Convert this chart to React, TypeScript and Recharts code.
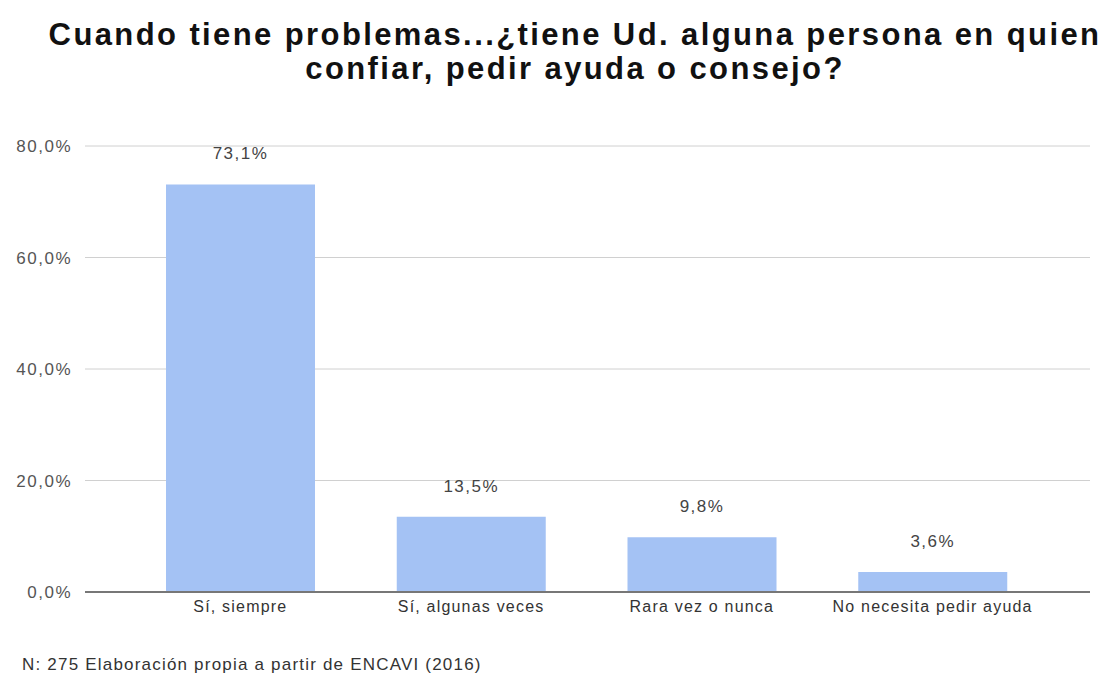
import React from 'react';
import { BarChart, Bar, XAxis, YAxis, CartesianGrid, LabelList } from 'recharts';

const categories = ['Sí, siempre', 'Sí, algunas veces', 'Rara vez o nunca', 'No necesita pedir ayuda'];
const values = [73.1, 13.5, 9.8, 3.6];
const yTicks = [0, 20, 40, 60, 80];

const data = categories.map((name, i) => ({ name, value: values[i] }));

const pct = (v: number) => `${v.toFixed(1).replace('.', ',')}%`;

const FONT = '"Liberation Sans", Arial, sans-serif';

const App: React.FC = () => {
  return (
    <div style={{ position: 'absolute', left: 0, top: 0, width: 1116, height: 680, background: '#fff', fontFamily: FONT }}>
      <div
        style={{
          position: 'absolute',
          left: 0,
          top: 18,
          width: 1150,
          textAlign: 'center',
          fontSize: 31,
          letterSpacing: 2.4,
          fontWeight: 'bold',
          lineHeight: '34px',
          color: '#111',
          whiteSpace: 'nowrap',
        }}
      >
        Cuando tiene problemas...¿tiene Ud. alguna persona en quien
        <br />
        confiar, pedir ayuda o consejo?
      </div>
      <div style={{ position: 'absolute', left: 0, top: 0 }}>
        <BarChart
          width={1116}
          height={680}
          data={data}
          margin={{ top: 146, right: 26, bottom: 58, left: 15 }}
        >
          <CartesianGrid vertical={false} stroke="#d0d0d0" />
          <XAxis
            dataKey="name"
            padding={{ left: 40, right: 42 }}
            tickSize={0}
            tickMargin={9}
            axisLine={{ stroke: '#777', strokeWidth: 2 }}
            tick={{ fill: '#333', fontSize: 16, letterSpacing: 1.2, fontFamily: FONT }}
            interval={0}
          />
          <YAxis
            width={70}
            domain={[0, 80]}
            ticks={yTicks}
            tickFormatter={pct}
            axisLine={false}
            tickSize={0}
            tickMargin={13}
            tick={{ fill: '#555', fontSize: 17, letterSpacing: 1.5, fontFamily: FONT }}
          />
          <Bar dataKey="value" fill="#a4c2f4" barSize={149} isAnimationActive={false}>
            <LabelList
              dataKey="value"
              position="top"
              offset={25}
              formatter={(v: any) => pct(Number(v))}
              style={{ fill: '#444', fontSize: 17, letterSpacing: 1.5, fontFamily: FONT }}
            />
          </Bar>
        </BarChart>
      </div>
      <div
        style={{
          position: 'absolute',
          left: 22,
          top: 655,
          fontSize: 17,
          letterSpacing: 1.2,
          color: '#333',
          whiteSpace: 'nowrap',
        }}
      >
        N: 275 Elaboración propia a partir de ENCAVI (2016)
      </div>
    </div>
  );
};

export default App;
